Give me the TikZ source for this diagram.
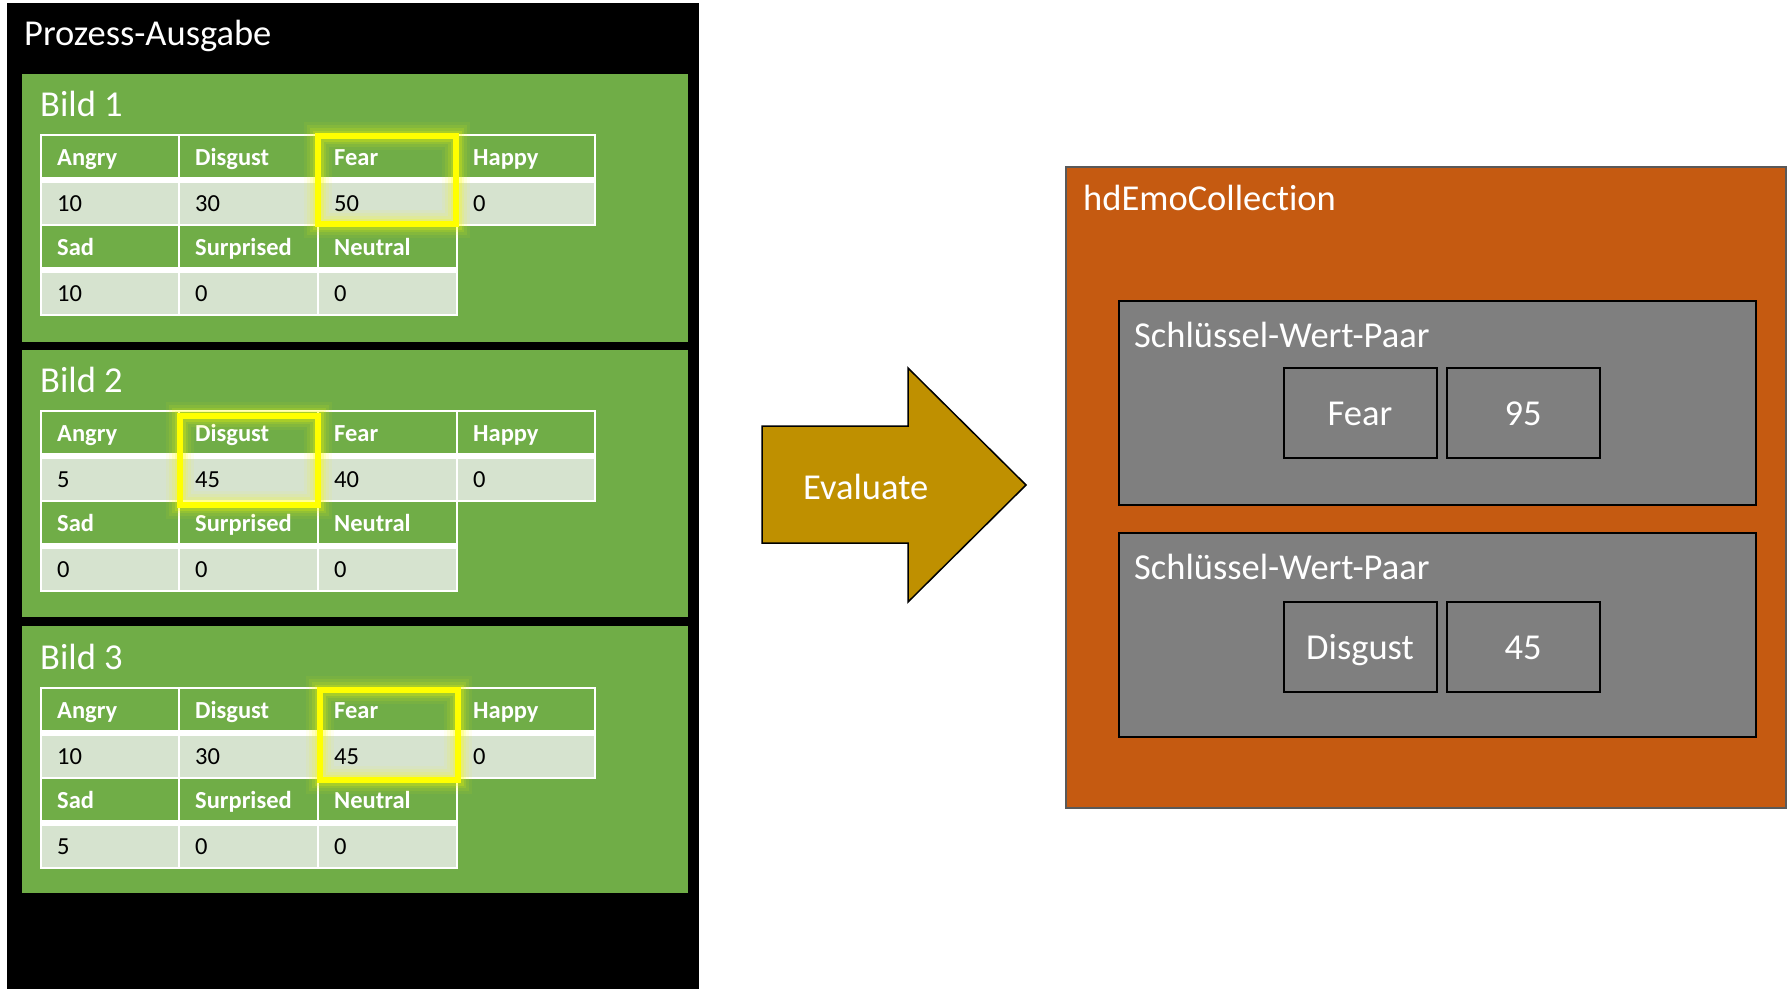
\documentclass[tikz,border=0pt]{standalone}
\usepackage{fontspec}
\setmainfont{Carlito}[Ligatures={NoCommon}]
\definecolor{pgreen}{HTML}{70AD47}
\definecolor{vfill}{HTML}{D6E3CF}
\definecolor{hlyellow}{HTML}{FFFF00}
\definecolor{arrowgold}{HTML}{BF9000}
\definecolor{collorange}{HTML}{C55A11}
\definecolor{kvgray}{HTML}{7F7F7F}
\definecolor{bordergray}{HTML}{595959}
\tikzset{
  bigtext/.style={font=\fontsize{36.5}{40}\selectfont, text=white, inner sep=0pt, anchor=base west},
  hdrtext/.style={font=\fontsize{24.5}{28}\selectfont\bfseries, text=white, inner sep=0pt, anchor=base west},
  valtext/.style={font=\fontsize{24.5}{28}\selectfont, text=black, inner sep=0pt, anchor=base west},
  tline/.style={white, line width=2pt},
  kvbox/.style={draw=black, line width=2pt, fill=kvgray},
  kvitem/.style={draw=black, line width=2pt, fill=kvgray, minimum width=153pt, minimum height=90pt, inner sep=0pt, text height=30pt, text depth=5pt, font=\fontsize{36.5}{40}\selectfont, text=white},
}
\newcommand{\emotab}[9]{%
  \fill[pgreen] (41,#1) rectangle (595,{#1+45});
  \fill[vfill] (41,{#1+45}) rectangle (595,{#1+90});
  \fill[pgreen] (41,{#1+90}) rectangle (457,{#1+135});
  \fill[vfill] (41,{#1+135}) rectangle (457,{#1+180});
  \draw[tline] (41,#1) rectangle (595,{#1+90});
  \draw[tline] (41,{#1+90}) rectangle (457,{#1+180});
  \foreach \cx in {179,318,457} \draw[tline] (\cx,#1) -- (\cx,{#1+90});
  \foreach \cx in {179,318} \draw[tline] (\cx,{#1+90}) -- (\cx,{#1+180});
  \draw[white, line width=6pt] (41,{#1+45}) -- (595,{#1+45});
  \draw[white, line width=6pt] (41,{#1+135}) -- (457,{#1+135});
  \node[hdrtext] (#2-h1) at (57,{#1+30}) {Angry};
  \node[hdrtext] (#2-h2) at (195,{#1+30}) {Disgust};
  \node[hdrtext] (#2-h3) at (334,{#1+30}) {Fear};
  \node[hdrtext] (#2-h4) at (473,{#1+30}) {Happy};
  \node[valtext] (#2-v1) at (57,{#1+76}) {#3};
  \node[valtext] (#2-v2) at (195,{#1+76}) {#4};
  \node[valtext] (#2-v3) at (334,{#1+76}) {#5};
  \node[valtext] (#2-v4) at (473,{#1+76}) {#6};
  \node[hdrtext] (#2-h5) at (57,{#1+120}) {Sad};
  \node[hdrtext] (#2-h6) at (195,{#1+120}) {Surprised};
  \node[hdrtext] (#2-h7) at (334,{#1+120}) {Neutral};
  \node[valtext] (#2-v5) at (57,{#1+166}) {#7};
  \node[valtext] (#2-v6) at (195,{#1+166}) {#8};
  \node[valtext] (#2-v7) at (334,{#1+166}) {#9};
}
% highlight: #1 left x, #2 right x, #3 top y, #4 bottom y (centre line)
\newcommand{\hlbox}[4]{%
  \foreach \w/\o in {28/0.06,22/0.09,16/0.13,11/0.2} {
    \draw[hlyellow, line width=\w pt, opacity=\o] (#1,#3) rectangle (#2,#4);
  }
  \draw[hlyellow, line width=5.5pt] (#1,#3) rectangle (#2,#4);
}
\begin{document}
\begin{tikzpicture}[x=1pt,y=-1pt]
\useasboundingbox (0,0) rectangle (1787,989);
\fill[white] (0,0) rectangle (1787,989);
% left process output
\fill[black] (7,3) rectangle (699,989);
\node[bigtext] (title) at (24,45) {Prozess-Ausgabe};
\fill[pgreen] (22,74) rectangle (688,342);
\fill[pgreen] (22,350) rectangle (688,617);
\fill[pgreen] (22,626) rectangle (688,893);
\node[bigtext] (bild1) at (40,116) {Bild 1};
\node[bigtext] (bild2) at (40,392) {Bild 2};
\node[bigtext] (bild3) at (40,669) {Bild 3};
\emotab{135}{t1}{10}{30}{50}{0}{10}{0}{0}
\emotab{411}{t2}{5}{45}{40}{0}{0}{0}{0}
\emotab{688}{t3}{10}{30}{45}{0}{5}{0}{0}
\hlbox{318}{456}{136}{224}
\hlbox{180}{318}{416}{505}
\hlbox{320}{458}{690}{780}
% arrow
\draw[black, line width=1.5pt, fill=arrowgold, line join=miter]
  (762,426) -- (908,426) -- (908,368) -- (1026,485) -- (908,602) -- (908,543) -- (762,543) -- cycle;
\node[bigtext] (evaluate) at (803,499) {Evaluate};
% collection
\draw[bordergray, line width=2pt, fill=collorange] (1066,167) rectangle (1786,808);
\node[bigtext] (coll) at (1083,210) {hdEmoCollection};
\draw[kvbox] (1119,301) rectangle (1756,505);
\node[bigtext] (kv1label) at (1134,347) {Schlüssel-Wert-Paar};
\node[kvitem] (k1) at (1360,413) {Fear};
\node[kvitem] (w1) at (1523,413) {95};
\draw[kvbox] (1119,533) rectangle (1756,737);
\node[bigtext] (kv2label) at (1134,579) {Schlüssel-Wert-Paar};
\node[kvitem] (k2) at (1360,647) {Disgust};
\node[kvitem] (w2) at (1523,647) {45};
\end{tikzpicture}
\end{document}
